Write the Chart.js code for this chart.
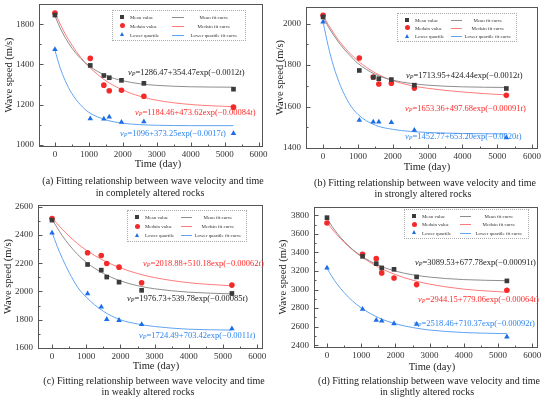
<!DOCTYPE html>
<html>
<head>
<meta charset="utf-8">
<script src="https://cdn.jsdelivr.net/npm/chart.js@4.4.0/dist/chart.umd.min.js"></script>
<style>
body { margin: 0; background: #fff; font-family: "Liberation Serif", "Times New Roman", serif; color: #222; }
#fig { position: relative; width: 550px; height: 401px; overflow: hidden; }
.panel { position: absolute; width: 275px; height: 200px; }
.panel canvas { position: absolute; left: 0; top: 0; }
.c { position: absolute; white-space: nowrap; transform: translate(-50%, -50%); }
.xt { font-size: 10.5px; }
.cap { font-size: 10px; }
.eq { position: absolute; white-space: nowrap; font-size: 8.5px; line-height: 9px; transform: translateY(-50%); }
.eq sub { font-size: 6px; line-height: 0; vertical-align: -1.5px; }
.k { color: #222; } .r { color: #ff2b2b; } .b { color: #2f86ee; }
.leg { position: absolute; border: 1px dotted #aaa; box-sizing: border-box; font-size: 6px; color: #333; }
.leg span { position: absolute; white-space: nowrap; }
</style>
</head>
<body>
<div id="fig">
  <div class="panel" id="pa" style="left:0;top:0">
    <canvas id="ca" width="275" height="170"></canvas>
    <div class="c xt" style="left:158px;top:163px">Time (day)</div>
    <div class="eq k" style="left:128px;top:72px"><i>v</i><sub><i>P</i></sub>=1286.47+354.47exp(−0.0012<i>t</i>)</div>
    <div class="eq r" style="left:135px;top:112px"><i>v</i><sub><i>P</i></sub>=1184.46+473.62exp(−0.00084<i>t</i>)</div>
    <div class="eq b" style="left:120px;top:133px"><i>v</i><sub><i>P</i></sub>=1096+373.25exp(−0.0017<i>t</i>)</div>
    <div class="c cap" style="left:153px;top:180px">(a) Fitting relationship between wave velocity and time</div>
    <div class="c cap" style="left:150px;top:192px">in completely altered rocks</div>
  </div>
  <div class="panel" id="pb" style="left:275px;top:0">
    <canvas id="cb" width="275" height="170"></canvas>
    <div class="c xt" style="left:152px;top:166px">Time (day)</div>
    <div class="eq k" style="left:131px;top:75px"><i>v</i><sub><i>P</i></sub>=1713.95+424.44exp(−0.0012<i>t</i>)</div>
    <div class="eq r" style="left:130px;top:108px"><i>v</i><sub><i>P</i></sub>=1653.36+497.68exp(−0.00091<i>t</i>)</div>
    <div class="eq b" style="left:130px;top:136px"><i>v</i><sub><i>P</i></sub>=1452.77+653.20exp(−0.0020<i>t</i>)</div>
    <div class="c cap" style="left:150px;top:182px">(b) Fitting relationship between wave velocity and time</div>
    <div class="c cap" style="left:148px;top:193px">in strongly altered rocks</div>
  </div>
  <div class="panel" id="pc" style="left:0;top:200px">
    <canvas id="cc" width="275" height="170"></canvas>
    <div class="c xt" style="left:156px;top:165px">Time (day)</div>
    <div class="eq r" style="left:143px;top:63px"><i>v</i><sub><i>P</i></sub>=2018.88+510.18exp(−0.00062<i>t</i>)</div>
    <div class="eq k" style="left:127px;top:98px"><i>v</i><sub><i>P</i></sub>=1976.73+539.78exp(−0.00085<i>t</i>)</div>
    <div class="eq b" style="left:139px;top:135px"><i>v</i><sub><i>P</i></sub>=1724.49+703.42exp(−0.0011<i>t</i>)</div>
    <div class="c cap" style="left:154px;top:180px">(c) Fitting relationship between wave velocity and time</div>
    <div class="c cap" style="left:148px;top:191px">in weakly altered rocks</div>
  </div>
  <div class="panel" id="pd" style="left:275px;top:200px">
    <canvas id="cd" width="275" height="170"></canvas>
    <div class="c xt" style="left:157px;top:166px">Time (day)</div>
    <div class="eq k" style="left:140px;top:62px"><i>v</i><sub><i>P</i></sub>=3089.53+677.78exp(−0.00091<i>t</i>)</div>
    <div class="eq r" style="left:143px;top:99px"><i>v</i><sub><i>P</i></sub>=2944.15+779.06exp(−0.00064<i>t</i>)</div>
    <div class="eq b" style="left:139px;top:123px"><i>v</i><sub><i>P</i></sub>=2518.46+710.37exp(−0.00092<i>t</i>)</div>
    <div class="c cap" style="left:154px;top:180px">(d) Fitting relationship between wave velocity and time</div>
    <div class="c cap" style="left:152px;top:191px">in slightly altered rocks</div>
  </div>
</div>
<script>
// measurement times (day) and sample times for the fit curves
const times = [0, 1040, 1440, 1600, 1960, 2620, 5260];
const fitTimes = [0, 150, 300, 500, 750, 1000, 1500, 2000, 2500, 3000, 4000, 5260];
const xTicks = [0, 1000, 2000, 3000, 4000, 5000, 6000];

// (a) completely altered rocks
const aMean = [1645, 1395, 1345, 1334, 1321, 1306, 1277];
const aMedian = [1655, 1430, 1297, 1269, 1272, 1242, 1188];
const aLower = [1474, 1131, 1129, 1139, 1113, 1116, 1057];
const aMeanFit = [1641, 1582, 1534, 1481, 1431, 1393, 1345, 1319, 1304, 1296, 1289, 1287];
const aMedianFit = [1658, 1602, 1552, 1496, 1437, 1389, 1319, 1273, 1242, 1222, 1201, 1190];
const aLowerFit = [1470, 1385, 1320, 1255, 1200, 1162, 1125, 1108, 1101, 1098, 1096, 1096];
const aYTicks = [1000, 1200, 1400, 1600];
const aYLabels = ['1000', '1200', '1400', '1800'];

// (b) strongly altered rocks
const bMean = [2032, 1774, 1741, 1734, 1730, 1703, 1687];
const bMedian = [2040, 1834, 1742, 1709, 1712, 1689, 1654];
const bLower = [2008, 1534, 1526, 1526, 1523, 1486, 1450];
const bMeanFit = [2030, 1985, 1945, 1898, 1850, 1808, 1755, 1727, 1712, 1703, 1695, 1692];
const bMedianFit = [2040, 1995, 1955, 1908, 1860, 1820, 1762, 1725, 1702, 1688, 1670, 1656];
const bLowerFit = [2008, 1890, 1795, 1700, 1615, 1562, 1510, 1490, 1480, 1475, 1470, 1468];
const bYTicks = [1400, 1600, 1800, 2000];
const bYLabels = ['1400', '1600', '1800', '2000'];

// (c) weakly altered rocks
const cMean = [2505, 2191, 2151, 2102, 2066, 2008, 1986];
const cMedian = [2516, 2274, 2255, 2198, 2172, 2062, 2045];
const cLower = [2415, 1984, 1890, 1803, 1796, 1767, 1737];
const cMeanFit = [2510, 2452, 2395, 2330, 2262, 2207, 2128, 2075, 2041, 2019, 1995, 1983];
const cMedianFit = [2522, 2480, 2440, 2392, 2338, 2292, 2220, 2167, 2127, 2098, 2062, 2040];
const cLowerFit = [2420, 2320, 2235, 2135, 2030, 1960, 1860, 1800, 1770, 1752, 1733, 1727];
const cYTicks = [1600, 1800, 2000, 2200, 2400, 2600];
const cYLabels = ['1600', '1800', '2000', '2200', '2400', '2600'];

// (d) slightly altered rocks
const dMean = [3775, 3358, 3279, 3233, 3218, 3136, 3093];
const dMedian = [3717, 3380, 3333, 3179, 3125, 3053, 2992];
const dLower = [3233, 2788, 2669, 2662, 2633, 2626, 2490];
const dMeanFit = [3767, 3681, 3605, 3520, 3432, 3362, 3262, 3199, 3159, 3134, 3107, 3095];
const dMedianFit = [3723, 3651, 3587, 3510, 3426, 3355, 3242, 3161, 3101, 3058, 3004, 2971];
const dLowerFit = [3229, 3137, 3057, 2967, 2875, 2802, 2697, 2631, 2590, 2563, 2536, 2524];
const dYTicks = [2400, 2600, 2800, 3000, 3200, 3400, 3600, 3800];
const dYLabels = ['2400', '2600', '2800', '3000', '3200', '3400', '3600', '3800'];

const W = 275, H = 170;
const serif = '"Liberation Serif", "Times New Roman", serif';

function pts(xs, ys) {
    return xs.map(function (x, i) { return { x: x, y: ys[i] }; });
}

// box around the plot, inward major/minor ticks and the y tick labels (Origin style)
function makeFrame(p) {
    return {
        id: 'frame',
        afterDraw: function (chart) {
            const ctx = chart.ctx, a = chart.chartArea;
            const x = chart.scales.x, y = chart.scales.y;
            ctx.save();
            ctx.strokeStyle = '#555';
            ctx.lineWidth = 1;
            ctx.strokeRect(Math.round(a.left) + 0.5, Math.round(a.top) + 0.5,
                Math.round(a.right - a.left), Math.round(a.bottom - a.top));
            ctx.beginPath();
            const bx = Math.round(a.bottom) + 0.5, lx = Math.round(a.left) + 0.5;
            xTicks.forEach(function (v) {
                const px = Math.round(x.getPixelForValue(v)) + 0.5;
                ctx.moveTo(px, bx); ctx.lineTo(px, bx - 4);
                if (v + 500 < x.max) {
                    const m = Math.round(x.getPixelForValue(v + 500)) + 0.5;
                    ctx.moveTo(m, bx); ctx.lineTo(m, bx - 2);
                }
            });
            const step = p.yTicks[1] - p.yTicks[0];
            p.yTicks.forEach(function (v) {
                const py = Math.round(y.getPixelForValue(v)) + 0.5;
                ctx.moveTo(lx, py); ctx.lineTo(lx + 4, py);
                if (v + step / 2 < y.max) {
                    const m = Math.round(y.getPixelForValue(v + step / 2)) + 0.5;
                    ctx.moveTo(lx, m); ctx.lineTo(lx + 2, m);
                }
            });
            ctx.stroke();
            ctx.fillStyle = '#333';
            ctx.font = '9px ' + serif;
            ctx.textAlign = 'right';
            ctx.textBaseline = 'middle';
            p.yTicks.forEach(function (v, i) {
                ctx.fillText(p.yLabels[i], a.left - 5, y.getPixelForValue(v));
            });
            ctx.restore();
        }
    };
}

function makeChart(canvasId, p) {
    const curve = function (label, data, color) {
        return {
            label: label, data: pts(fitTimes, data), showLine: true, pointRadius: 0,
            borderColor: color, backgroundColor: color, borderWidth: 1,
            cubicInterpolationMode: 'monotone'
        };
    };
    return new Chart(document.getElementById(canvasId), {
        type: 'scatter',
        data: {
            datasets: [
                { label: 'Mean value', data: pts(times, p.mean), pointStyle: 'rect', pointRadius: 3.3,
                  backgroundColor: '#3b3b3b', borderColor: '#3b3b3b', borderWidth: 0 },
                { label: 'Medain value', data: pts(times, p.median), pointStyle: 'circle', pointRadius: 2.8,
                  backgroundColor: '#f42a2a', borderColor: '#f42a2a', borderWidth: 0 },
                { label: 'Lower quartile', data: pts(times, p.lower), pointStyle: 'triangle', pointRadius: 3.2,
                  backgroundColor: '#1c6ee8', borderColor: '#1c6ee8', borderWidth: 0 },
                curve('Mean fit curve', p.meanFit, '#8d8d8d'),
                curve('Medain fit curve', p.medianFit, '#ff7b7b'),
                curve('Lower quartile fit curve', p.lowerFit, '#62a4f2')
            ]
        },
        options: {
            responsive: false,
            animation: false,
            layout: { padding: { left: 0, top: p.box[2], right: W - p.box[1], bottom: 0 } },
            plugins: { legend: { display: false }, tooltip: { enabled: false } },
            scales: {
                x: {
                    type: 'linear', min: p.xMin, max: p.xMax,
                    grid: { display: false, drawTicks: false }, border: { display: false },
                    afterBuildTicks: function (s) { s.ticks = xTicks.map(function (v) { return { value: v }; }); },
                    afterFit: function (s) { s.height = H - p.box[3]; s.paddingLeft = 0; s.paddingRight = 0; },
                    ticks: {
                        font: { family: serif, size: 9 }, color: '#333', padding: 3, maxRotation: 0, autoSkip: false,
                        callback: function (v) { return String(v); }
                    }
                },
                y: {
                    type: 'linear', min: p.yMin, max: p.yMax,
                    grid: { display: false, drawTicks: false }, border: { display: false },
                    afterFit: function (s) { s.width = p.box[0]; s.paddingTop = 0; s.paddingBottom = 0; },
                    title: {
                        display: true, text: 'Wave speed (m/s)', color: '#222',
                        font: { family: serif, size: 10.5 }, padding: { top: p.titlePad, bottom: 0 }
                    },
                    ticks: { display: false }
                }
            }
        },
        plugins: [makeFrame(p)]
    });
}

function addLegend(panelId, left, top, width, height) {
    const leg = document.createElement('div');
    leg.className = 'leg';
    leg.style.cssText = 'left:' + left + 'px;top:' + top + 'px;width:' + width + 'px;height:' + height + 'px';
    const rows = [
        ['Mean value', 'Mean fit curve', '#3b3b3b', '#8d8d8d', 'sq'],
        ['Medain value', 'Medain fit curve', '#f42a2a', '#ff7b7b', 'ci'],
        ['Lower quartile', 'Lower quartile fit curve', '#1c6ee8', '#62a4f2', 'tr']
    ];
    rows.forEach(function (r, i) {
        const cy = height * (0.2 + 0.28 * i);
        const mk = document.createElement('span');
        if (r[4] === 'sq') mk.style.cssText = 'left:7px;top:' + (cy - 2) + 'px;width:4px;height:4px;background:' + r[2];
        if (r[4] === 'ci') mk.style.cssText = 'left:6.5px;top:' + (cy - 2.5) + 'px;width:5px;height:5px;border-radius:50%;background:' + r[2];
        if (r[4] === 'tr') mk.style.cssText = 'left:6.5px;top:' + (cy - 2.5) + 'px;width:0;height:0;border-left:2.5px solid transparent;border-right:2.5px solid transparent;border-bottom:4.5px solid ' + r[2];
        leg.appendChild(mk);
        const t1 = document.createElement('span');
        t1.textContent = r[0];
        t1.style.cssText = 'left:17px;top:' + cy + 'px;transform-origin:0 50%;transform:translateY(-50%) scale(0.82)';
        leg.appendChild(t1);
        const ln = document.createElement('span');
        ln.style.cssText = 'left:' + (width * 0.44) + 'px;top:' + cy + 'px;width:' + (width * 0.09) + 'px;height:1px;background:' + r[3];
        leg.appendChild(ln);
        const t2 = document.createElement('span');
        t2.textContent = r[1];
        t2.style.cssText = 'left:' + (width * 0.75) + 'px;top:' + cy + 'px;transform:translate(-50%,-50%) scale(0.82)';
        leg.appendChild(t2);
    });
    document.getElementById(panelId).appendChild(leg);
}

makeChart('ca', { mean: aMean, median: aMedian, lower: aLower, meanFit: aMeanFit, medianFit: aMedianFit,
    lowerFit: aLowerFit, yTicks: aYTicks, yLabels: aYLabels, xMin: -470, xMax: 6100, yMin: 995, yMax: 1700,
    box: [39, 262, 4, 146], titlePad: 2.5 });
makeChart('cb', { mean: bMean, median: bMedian, lower: bLower, meanFit: bMeanFit, medianFit: bMedianFit,
    lowerFit: bLowerFit, yTicks: bYTicks, yLabels: bYLabels, xMin: -490, xMax: 6140, yMin: 1400, yMax: 2080,
    box: [31, 262, 7, 148], titlePad: -1.5 });
makeChart('cc', { mean: cMean, median: cMedian, lower: cLower, meanFit: cMeanFit, medianFit: cMedianFit,
    lowerFit: cLowerFit, yTicks: cYTicks, yLabels: cYLabels, xMin: -410, xMax: 6140, yMin: 1600, yMax: 2612,
    box: [38, 262, 5, 148], titlePad: 1.5 });
makeChart('cd', { mean: dMean, median: dMedian, lower: dLower, meanFit: dMeanFit, medianFit: dMedianFit,
    lowerFit: dLowerFit, yTicks: dYTicks, yLabels: dYLabels, xMin: -380, xMax: 6140, yMin: 2380, yMax: 3890,
    box: [39, 262, 7, 147], titlePad: 1.5 });

addLegend('pa', 112, 10, 134, 31);
addLegend('pb', 122, 13, 120, 29);
addLegend('pc', 127, 10, 120, 32);
addLegend('pd', 129, 9, 125, 30);
</script>
</body>
</html>
